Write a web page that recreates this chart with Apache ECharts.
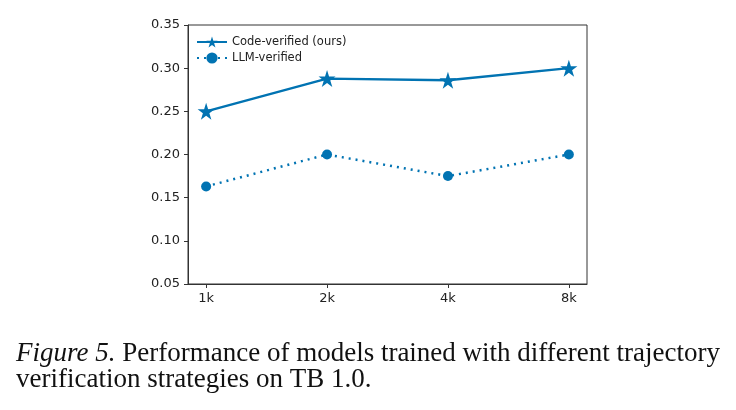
<!DOCTYPE html>
<html lang="en">
<head>
    <meta charset="UTF-8">
    <title>Figure 5</title>
    <style>
        html, body { margin: 0; padding: 0; background: #fff; }
        #chart { width: 736px; height: 410px; }
    </style>
</head>
<body>
<div id="chart"></div>
<script src="https://cdn.jsdelivr.net/npm/echarts@6/dist/echarts.min.js"></script>
<script>
    // data
    var categories = ['1k', '2k', '4k', '8k'];
    var codeVerified = [0.250, 0.288, 0.286, 0.300];
    var llmVerified = [0.163, 0.200, 0.175, 0.200];

    var blue = '#0173b2';
    var star = 'path://M50,0 L61.8,35.4 L100,35.4 L69.1,57.3 L80.9,92.7 L50,70.8 L19.1,92.7 L30.9,57.3 L0,35.4 L38.2,35.4 Z';

    function pairs(vals) {
        return vals.map(function (v, i) { return [i, v]; });
    }

    var chart = echarts.init(document.getElementById('chart'));

    var option = {
        animation: false,
        grid: {
            left: 188, top: 25, right: 149, bottom: 126,
            show: true, borderColor: '#333', borderWidth: 1
        },
        legend: {
            left: 191, top: 31,
            orient: 'vertical',
            itemWidth: 30, itemHeight: 14, itemGap: 4,
            textStyle: { fontFamily: 'DejaVu Sans', fontSize: 11.5, color: '#222' },
            data: ['Code-verified (ours)', 'LLM-verified']
        },
        xAxis: {
            type: 'value',
            min: -0.15, max: 3.15,
            splitLine: { show: false },
            axisLine: { onZero: false, lineStyle: { color: '#333' } },
            axisTick: { length: 4, lineStyle: { color: '#333' }, customValues: [0, 1, 2, 3] },
            axisLabel: {
                customValues: [0, 1, 2, 3],
                formatter: function (v) { return categories[Math.round(v)]; },
                fontFamily: 'DejaVu Sans', fontSize: 13, color: '#222', margin: 8
            }
        },
        yAxis: {
            type: 'value',
            min: 0.05, max: 0.35, interval: 0.05,
            splitLine: { show: false },
            axisLine: { show: true, onZero: false, lineStyle: { color: '#333' } },
            axisTick: { show: true, length: 4, lineStyle: { color: '#333' } },
            axisLabel: {
                formatter: function (v) { return v.toFixed(2); },
                fontFamily: 'DejaVu Sans', fontSize: 13, color: '#222', margin: 8
            }
        },
        series: [
            {
                name: 'Code-verified (ours)',
                type: 'line',
                data: pairs(codeVerified),
                symbol: star, symbolSize: 17,
                itemStyle: { color: blue },
                lineStyle: { color: blue, width: 2.3 }
            },
            {
                name: 'LLM-verified',
                type: 'line',
                data: pairs(llmVerified),
                symbol: 'circle', symbolSize: 10,
                itemStyle: { color: blue },
                lineStyle: { color: blue, width: 2.5, type: [2, 5] }
            }
        ],
        graphic: [
            {
                type: 'text', left: 16, top: 340,
                style: {
                    text: '{i|Figure 5.} Performance of models trained with different trajectory',
                    rich: {
                        i: { fontFamily: 'Liberation Serif', fontSize: 27, fontStyle: 'italic', fill: '#111' }
                    },
                    fontFamily: 'Liberation Serif', fontSize: 27, fill: '#111'
                }
            },
            {
                type: 'text', left: 16, top: 366,
                style: {
                    text: 'verification strategies on TB 1.0.',
                    fontFamily: 'Liberation Serif', fontSize: 27, fill: '#111'
                }
            }
        ]
    };

    chart.setOption(option);
</script>
</body>
</html>
